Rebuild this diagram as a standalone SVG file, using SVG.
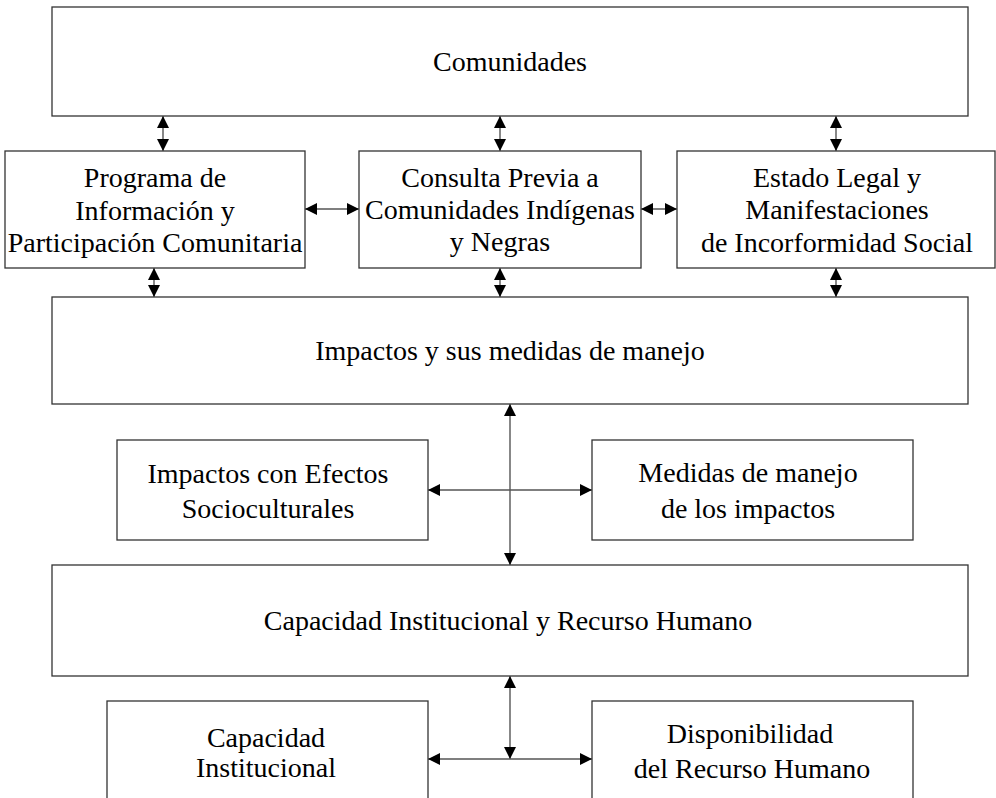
<svg xmlns="http://www.w3.org/2000/svg" width="996" height="798" viewBox="0 0 996 798">
<defs>
<marker id="ah" viewBox="0 0 10 10" refX="10" refY="5" markerWidth="12" markerHeight="12" markerUnits="userSpaceOnUse" orient="auto-start-reverse">
<path d="M0,0 L10,5 L0,10 z" fill="#000"/>
</marker>
<style>
.box{fill:#fff;stroke:#333;stroke-width:1.3}
.lbl{font-family:"Liberation Serif","Times New Roman",serif;font-size:28px;fill:#000;text-anchor:middle}
.con{stroke:#555;stroke-width:1.4;fill:none;marker-start:url(#ah);marker-end:url(#ah)}
</style>
</defs>
<rect width="996" height="798" fill="#fff"/>
<g id="comunidades"><rect class="box" x="52" y="7" width="916" height="109"/><text class="lbl" x="510" y="71">Comunidades</text></g>
<g id="programa"><rect class="box" x="5" y="151" width="300" height="117"/><text class="lbl" x="155" y="187">Programa de</text><text class="lbl" x="155" y="220">Información y</text><text class="lbl" x="155" y="252">Participación Comunitaria</text></g>
<g id="consulta"><rect class="box" x="359" y="151" width="282" height="117"/><text class="lbl" x="500" y="187">Consulta Previa a</text><text class="lbl" x="500" y="219">Comunidades Indígenas</text><text class="lbl" x="500" y="251">y Negras</text></g>
<g id="estado"><rect class="box" x="677" y="151" width="318" height="117"/><text class="lbl" x="837" y="187">Estado Legal y</text><text class="lbl" x="837" y="219">Manifestaciones</text><text class="lbl" x="837" y="252">de Incorformidad Social</text></g>
<g id="impactos"><rect class="box" x="52" y="297" width="916" height="107"/><text class="lbl" x="510" y="360">Impactos y sus medidas de manejo</text></g>
<g id="efectos"><rect class="box" x="117" y="440" width="311" height="100"/><text class="lbl" x="268" y="483">Impactos con Efectos</text><text class="lbl" x="268" y="518">Socioculturales</text></g>
<g id="medidas"><rect class="box" x="592" y="440" width="321" height="100"/><text class="lbl" x="748" y="482">Medidas de manejo</text><text class="lbl" x="748" y="518">de los impactos</text></g>
<g id="capacidad-rh"><rect class="box" x="52" y="565" width="916" height="111"/><text class="lbl" x="508" y="630">Capacidad Institucional y Recurso Humano</text></g>
<g id="capacidad-inst"><rect class="box" x="107" y="701" width="321" height="110"/><text class="lbl" x="266" y="747">Capacidad</text><text class="lbl" x="266" y="777">Institucional</text></g>
<g id="disponibilidad"><rect class="box" x="592" y="701" width="321" height="110"/><text class="lbl" x="750" y="743">Disponibilidad</text><text class="lbl" x="752" y="778">del Recurso Humano</text></g>
<g id="connectors">
<line class="con" x1="163" y1="116" x2="163" y2="151"/>
<line class="con" x1="500" y1="116" x2="500" y2="151"/>
<line class="con" x1="836" y1="116" x2="836" y2="151"/>
<line class="con" x1="305" y1="209" x2="359" y2="209"/>
<line class="con" x1="641" y1="209" x2="677" y2="209"/>
<line class="con" x1="154" y1="268" x2="154" y2="297"/>
<line class="con" x1="500" y1="268" x2="500" y2="297"/>
<line class="con" x1="836" y1="268" x2="836" y2="297"/>
<line class="con" x1="510" y1="404" x2="510" y2="565"/>
<line class="con" x1="428" y1="490" x2="592" y2="490"/>
<line class="con" x1="510" y1="676" x2="510" y2="759"/>
<line class="con" x1="428" y1="759" x2="592" y2="759"/>
</g>
</svg>
